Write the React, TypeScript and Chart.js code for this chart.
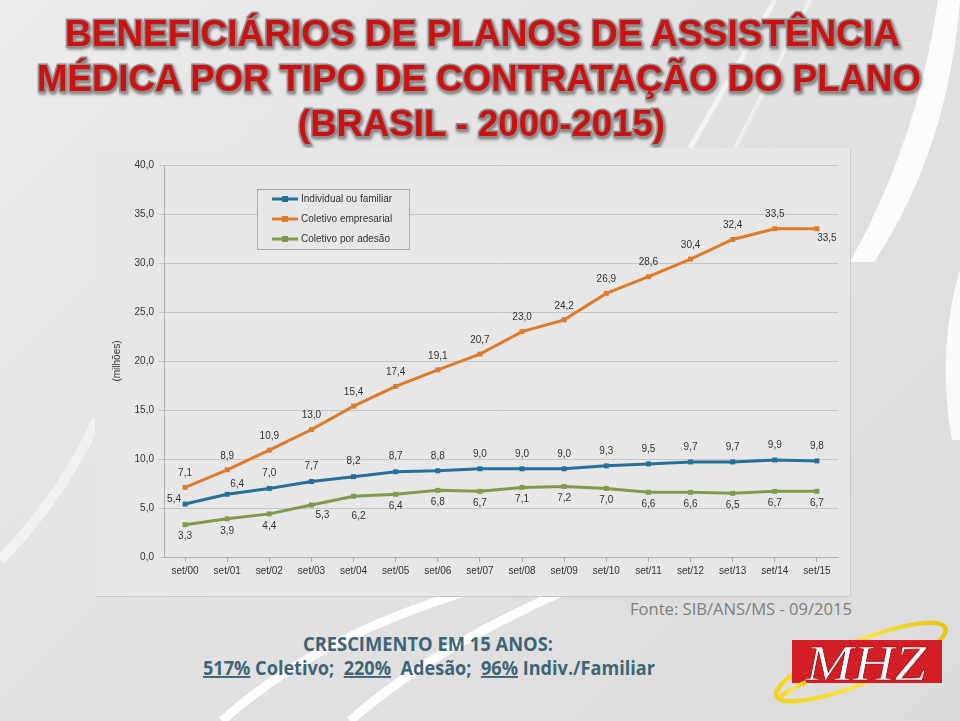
import React, { useEffect, useRef } from "react";
import { Chart, registerables } from "chart.js";

Chart.register(...registerables);

// ---------- data ----------
const categories = [
  "set/00", "set/01", "set/02", "set/03", "set/04", "set/05", "set/06", "set/07",
  "set/08", "set/09", "set/10", "set/11", "set/12", "set/13", "set/14", "set/15",
];
const seriesNames = ["Individual ou familiar", "Coletivo empresarial", "Coletivo por adesão"];
const individual = [5.4, 6.4, 7.0, 7.7, 8.2, 8.7, 8.8, 9.0, 9.0, 9.0, 9.3, 9.5, 9.7, 9.7, 9.9, 9.8];
const empresarial = [7.1, 8.9, 10.9, 13.0, 15.4, 17.4, 19.1, 20.7, 23.0, 24.2, 26.9, 28.6, 30.4, 32.4, 33.5, 33.5];
const adesao = [3.3, 3.9, 4.4, 5.3, 6.2, 6.4, 6.8, 6.7, 7.1, 7.2, 7.0, 6.6, 6.6, 6.5, 6.7, 6.7];
const yMin = 0;
const yMax = 40;
const yStep = 5;

const titleLines = [
  "BENEFICIÁRIOS DE PLANOS DE ASSISTÊNCIA",
  "MÉDICA POR TIPO DE CONTRATAÇÃO DO PLANO",
  "(BRASIL - 2000-2015)",
];
const yTitle = "(milhões)";
const source = "Fonte: SIB/ANS/MS - 09/2015";
const growthTitle = "CRESCIMENTO EM 15 ANOS:";

// ---------- styles ----------
const COLORS = ["#25709b", "#de7a29", "#7d9b49"];
const FONT = '"Liberation Sans", Arial, Helvetica, sans-serif';
const TEXT = "#333333";

// label placement per series: default offset, exceptions by index
const labelPlacement: { dy: number; ex: Record<number, [number, number]> }[] = [
  { dy: -15, ex: { 0: [-11, -5], 1: [10, -10] } },
  { dy: -14, ex: { 15: [10, 10] } },
  { dy: 12, ex: { 3: [11, 10], 4: [5, 20] } },
];

const fmt = (v: number) => v.toFixed(1).replace(".", ",");

const valueLabels = {
  id: "valueLabels",
  afterDatasetsDraw(chart: any) {
    const ctx = chart.ctx;
    ctx.save();
    ctx.font = `10px ${FONT}`;
    ctx.fillStyle = TEXT;
    ctx.textAlign = "center";
    ctx.textBaseline = "middle";
    chart.data.datasets.forEach((ds: any, di: number) => {
      const meta = chart.getDatasetMeta(di);
      const pl = labelPlacement[di];
      meta.data.forEach((pt: any, i: number) => {
        const e = pl.ex[i];
        const dx = e ? e[0] : 0;
        const dy = e ? e[1] : pl.dy;
        ctx.fillText(fmt(ds.data[i]), pt.x + dx, pt.y + dy);
      });
    });
    ctx.restore();
  },
};

const boxLegend = {
  id: "boxLegend",
  afterDraw(chart: any) {
    const ctx = chart.ctx;
    const a = chart.chartArea;
    const x0 = a.left + 93;
    const y0 = a.top + 24;
    const w = 152;
    const h = 60;
    ctx.save();
    ctx.fillStyle = "#e7e7e7";
    ctx.fillRect(x0, y0, w, h);
    ctx.strokeStyle = "#a8a8a8";
    ctx.lineWidth = 1;
    ctx.strokeRect(x0 + 0.5, y0 + 0.5, w, h);
    ctx.font = `10px ${FONT}`;
    ctx.textBaseline = "middle";
    ctx.textAlign = "left";
    chart.data.datasets.forEach((ds: any, i: number) => {
      const cy = y0 + 10 + i * 20;
      ctx.strokeStyle = ds.borderColor;
      ctx.lineWidth = 3;
      ctx.beginPath();
      ctx.moveTo(x0 + 15, cy);
      ctx.lineTo(x0 + 41, cy);
      ctx.stroke();
      ctx.fillStyle = ds.borderColor;
      ctx.fillRect(x0 + 25, cy - 3, 6, 6);
      ctx.fillStyle = TEXT;
      ctx.fillText(ds.label, x0 + 44, cy);
    });
    ctx.restore();
  },
};

function LineChart() {
  const ref = useRef<HTMLCanvasElement | null>(null);
  useEffect(() => {
    if (!ref.current) return;
    const series = [individual, empresarial, adesao];
    const chart = new Chart(ref.current, {
      type: "line",
      data: {
        labels: categories,
        datasets: series.map((d, i) => ({
          label: seriesNames[i],
          data: d,
          borderColor: COLORS[i],
          backgroundColor: COLORS[i],
          borderWidth: 3,
          pointStyle: "rect",
          pointRadius: 3.5,
          pointBorderWidth: 0,
          pointBackgroundColor: COLORS[i],
          tension: 0,
          fill: false,
        })),
      },
      options: {
        animation: false,
        responsive: false,
        maintainAspectRatio: false,
        events: [],
        layout: { padding: { left: 16, right: 12, top: 17, bottom: 16 } },
        plugins: { legend: { display: false }, tooltip: { enabled: false } },
        scales: {
          x: {
            offset: true,
            grid: { drawOnChartArea: false, tickLength: 5, color: "#b0b0b0" },
            border: { color: "#b0b0b0" },
            ticks: {
              font: { family: FONT, size: 10 },
              color: TEXT,
              padding: 3,
              maxRotation: 0,
              autoSkip: false,
            },
          },
          y: {
            min: yMin,
            max: yMax,
            grid: { color: "#c6c6c6", tickLength: 5 },
            border: { color: "#b0b0b0" },
            ticks: {
              stepSize: yStep,
              font: { family: FONT, size: 10 },
              color: TEXT,
              padding: 5,
              callback: (v: any) => fmt(Number(v)),
            },
            title: {
              display: true,
              text: yTitle,
              font: { family: FONT, size: 10 },
              color: TEXT,
              padding: 0,
            },
            afterFit: (s: any) => {
              s.width = 53;
            },
          },
        },
      },
      plugins: [valueLabels, boxLegend],
    } as any);
    return () => chart.destroy();
  }, []);
  return <canvas ref={ref} width={755} height={448} style={{ display: "block", width: 755, height: 448 }} />;
}

export default function App() {
  const titleStyle: React.CSSProperties = {
    filter: "drop-shadow(1.5px 2px 1.5px rgba(0,0,0,0.45))",
  };
  const tProps = {
    fontFamily: FONT,
    fontWeight: "bold" as const,
    fontSize: 36,
    fill: "#cc1111",
    stroke: "#8f8f8f",
    strokeWidth: 3,
    paintOrder: "stroke",
    lengthAdjust: "spacingAndGlyphs",
  };
  const calibri = '"Open Sans", "Noto Sans", sans-serif';
  return (
    <div
      style={{
        position: "absolute",
        left: 0,
        top: 0,
        width: 960,
        height: 721,
        overflow: "hidden",
        background: "linear-gradient(135deg, #ececec 0%, #e2e2e2 45%, #dcdcdc 100%)",
      }}
    >
      <svg width={960} height={721} style={{ position: "absolute", left: 0, top: 0 }}>
        {/* decorative swooshes */}
        <path d="M 938 0 L 960 0 Q 948 150 874 262 L 850 262 Q 918 140 938 0 Z" fill="#ffffff" opacity={0.9} />
        <path d="M 960 270 Q 936 350 952 440 L 960 440 Z" fill="#ffffff" opacity={0.85} />
        <path d="M 775 0 Q 735 70 690 148" stroke="#ffffff" strokeWidth={5} fill="none" opacity={0.6} />
        <path d="M 810 0 Q 770 80 735 148" stroke="#ffffff" strokeWidth={4} fill="none" opacity={0.45} />
        <path d="M 222 721 Q 310 640 465 592" stroke="#ffffff" strokeWidth={9} fill="none" opacity={0.95} />
        <path d="M 350 721 Q 430 650 562 592" stroke="#ffffff" strokeWidth={9} fill="none" opacity={0.95} />
        <path d="M 0 560 Q 60 500 97 420" stroke="#ffffff" strokeWidth={10} fill="none" opacity={0.5} />

        {/* title */}
        <g style={titleStyle}>
          <text x={65} y={46} textLength={835} {...tProps}>
            {titleLines[0]}
          </text>
          <text x={37} y={91} textLength={884} {...tProps}>
            {titleLines[1]}
          </text>
          <text x={298} y={136} textLength={367} {...tProps}>
            {titleLines[2]}
          </text>
        </g>

        {/* source */}
        <text x={630} y={615} textLength={222} lengthAdjust="spacingAndGlyphs" fontFamily={calibri} fontSize={17} fill="#7f7f7f">
          {source}
        </text>

        {/* growth text */}
        <text x={303} y={651} textLength={250} lengthAdjust="spacingAndGlyphs" fontFamily={calibri} fontWeight="bold" fontSize={19} fill="#3e6577">
          {growthTitle}
        </text>
        <text
          x={203}
          y={675}
          textLength={452}
          lengthAdjust="spacingAndGlyphs"
          fontFamily={calibri}
          fontWeight="bold"
          fontSize={19}
          fill="#3e6577"
          style={{ whiteSpace: "pre" }}
        >
          <tspan textDecoration="underline">517%</tspan>
          <tspan>{" Coletivo;  "}</tspan>
          <tspan textDecoration="underline">220%</tspan>
          <tspan>{"  Adesão;  "}</tspan>
          <tspan textDecoration="underline">96%</tspan>
          <tspan>{" Indiv./Familiar"}</tspan>
        </text>

        {/* logo */}
        <defs>
          <linearGradient id="ring" x1="0" y1="0" x2="1" y2="0">
            <stop offset="0" stopColor="#f3d21a" />
            <stop offset="0.5" stopColor="#fbe85a" />
            <stop offset="1" stopColor="#e9c511" />
          </linearGradient>
        </defs>
        <ellipse cx={861} cy={662} rx={91} ry={21} transform="rotate(-22 861 662)" fill="none" stroke="url(#ring)" strokeWidth={4.5} />
        <rect x={792} y={640} width={150} height={43} fill="#d41e25" />
        <text
          x={806}
          y={680}
          textLength={120}
          lengthAdjust="spacingAndGlyphs"
          fontFamily='"Liberation Serif", "DejaVu Serif", serif'
          fontStyle="italic"
          fontSize={50}
          fill="#ffffff"
          stroke="#7a0a0a"
          strokeWidth={0.6}
        >
          MHZ
        </text>
        <path d="M 781 696 Q 790 690 806 682" stroke="url(#ring)" strokeWidth={4.5} fill="none" />
      </svg>

      {/* chart panel */}
      <div
        style={{
          position: "absolute",
          left: 95,
          top: 148,
          width: 755,
          height: 448,
          background: "#e7e7e7",
          boxShadow: "1px 1px 0 #c9c9c9",
        }}
      >
        <LineChart />
      </div>
    </div>
  );
}
